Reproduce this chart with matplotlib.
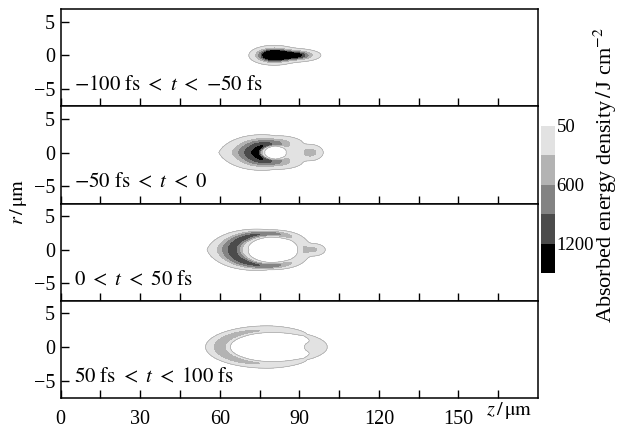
import matplotlib
matplotlib.use('Agg')
import matplotlib.pyplot as plt
import numpy as np

plt.rcParams['font.family'] = ['Liberation Serif', 'DejaVu Serif']
plt.rcParams['mathtext.fontset'] = 'stix'

# ----------------------------------------------------------------------------
# data
# ----------------------------------------------------------------------------
panel_labels = [r'$-100\ \mathrm{fs}\ <\ t\ <\ {-50}\ \mathrm{fs}$',
                r'$-50\ \mathrm{fs}\ <\ t\ <\ 0$',
                r'$0\ <\ t\ <\ 50\ \mathrm{fs}$',
                r'$50\ \mathrm{fs}\ <\ t\ <\ 100\ \mathrm{fs}$']

levels = [50, 325, 600, 900, 1200, 100000]
level_colors = ['#e2e2e2', '#b3b3b3', '#838383', '#4b4b4b', '#000000']
cbar_ticks = [50, 600, 1200]

# absorbed energy shell (crescent) per panel: centre, radii along z and r
shell_zc = [80.0, 81.0, 78.5, 79.0]
shell_az = [7.0, 7.0, 13.5, 18.5]
shell_br = [1.4, 1.3, 2.4, 2.5]
# values at angles 0 (front, +z), 45, 90, 135, 180 (back, -z) deg
shell_ang = [0, 45, 90, 135, 180]
shell_peak = [[0, 0, 0, 0, 0],
              [220, 300, 800, 1220, 1280],
              [220, 250, 850, 1000, 1000],
              [150, 60, 280, 450, 520]]
shell_wout = [[1, 1, 1, 1, 1],
              [0.235, 0.7, 0.55, 0.85, 1.14],
              [0.1, 0.2, 0.143, 0.3, 0.42],
              [0.1, 0.15, 0.2, 0.2, 0.208]]
shell_win = [[1, 1, 1, 1, 1],
             [0.353, 0.25, 0.15, 0.2, 0.24],
             [0.146, 0.12, 0.13, 0.2, 0.257],
             [0.1, 0.1, 0.1, 0.12, 0.124]]

# gaussian spots (head / tail): panel, z0, sz, sr, peak
spot_panel = [0, 0, 1, 2, 3]
spot_z = [80.5, 88.0, 94.0, 95.0, 96.0]
spot_sz = [4.8, 5.5, 3.3, 3.3, 3.5]
spot_sr = [0.75, 0.55, 0.8, 0.65, 0.75]
spot_peak = [2600, 1500, 500, 400, 200]

z = np.linspace(0, 180, 900)
r = np.linspace(-8, 8, 400)
Z, R = np.meshgrid(z, r)


def energy(i):
    X = (Z - shell_zc[i]) / shell_az[i]
    Y = np.abs(R) / shell_br[i]
    rho = np.hypot(X, Y)
    th = np.degrees(np.arctan2(Y, X))
    pk = np.interp(th, shell_ang, shell_peak[i])
    wo = np.interp(th, shell_ang, shell_wout[i])
    wi = np.interp(th, shell_ang, shell_win[i])
    s = rho - 1
    w = np.where(s >= 0, wo, wi)
    E = pk * np.exp(-(s / w) ** 2)
    for k in range(len(spot_panel)):
        if spot_panel[k] == i:
            E = E + spot_peak[k] * np.exp(-((Z - spot_z[k]) / spot_sz[k]) ** 2
                                          - (R / spot_sr[k]) ** 2)
    return E


# ----------------------------------------------------------------------------
# figure
# ----------------------------------------------------------------------------
fig = plt.figure(figsize=(6.27, 4.32), dpi=100)
left, width = 60.7 / 627, (538 - 60.7) / 627
top_px, h_px = 9, 97.25

cs = None
for i in range(4):
    ax = fig.add_axes([left, 1 - (top_px + (i + 1) * h_px) / 432, width, h_px / 432])
    E = energy(i)
    cs = ax.contourf(Z, R, E, levels=levels, colors=level_colors)
    ax.contour(Z, R, E, levels=[50], colors='#9a9a9a', linewidths=0.4)
    ax.set_xlim(0, 180)
    ax.set_ylim(-7.6, 6.9)
    ax.set_xticks(np.arange(0, 180, 15))
    ax.set_yticks([-5, 0, 5])
    ax.tick_params(direction='in', length=6, width=1, labelsize=14.5, pad=4)
    for sp in ax.spines.values():
        sp.set_linewidth(1.1)
    if i < 3:
        ax.set_xticklabels([])
    else:
        ax.set_xticklabels([str(v) if v % 30 == 0 else '' for v in np.arange(0, 180, 15)])
        ax.tick_params(axis='x', pad=9)
    ax.text(5.0, -4.6, panel_labels[i], fontsize=15, va='center', ha='left')

fig.text(0.813, 0.049, r'$z\,/\,\mathrm{\mu m}$', fontsize=14.5, ha='center', va='center')
fig.text(0.03, 0.533, r'$r\,/\,\mathrm{\mu m}$', fontsize=14.5, ha='center', va='center',
         rotation=90)

cax = fig.add_axes([541 / 627, 1 - 273 / 432, 14 / 627, 147 / 432])
cb = fig.colorbar(cs, cax=cax, ticks=cbar_ticks)
cax.invert_yaxis()
cb.outline.set_visible(False)
cax.tick_params(length=0, labelsize=13.5, pad=1)
cax.set_yticklabels([str(t) for t in cbar_ticks])
fig.text(0.966, 0.595, r'Absorbed energy density$\,/\,$J cm$^{-2}$', fontsize=16,
         rotation=90, ha='center', va='center')

fig.savefig('out.png', dpi=100)
